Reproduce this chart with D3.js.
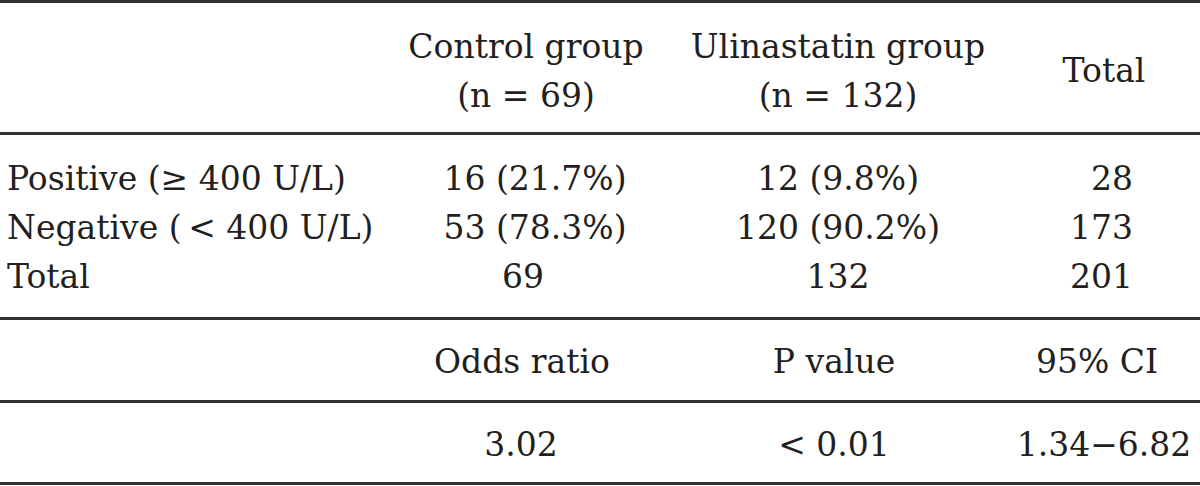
<!DOCTYPE html>
<html>
<head>
<meta charset="utf-8">
<script src="https://cdn.jsdelivr.net/npm/d3@7"></script>
<style>
  html, body { margin: 0; padding: 0; background: #fff; }
  svg text { font-family: "DejaVu Serif", serif; fill: #231f20; }
</style>
</head>
<body>
<svg id="chart" width="1200" height="486"></svg>
<script>
// ---- data ----
const headerTitles = ["Control group", "Ulinastatin group", "Total"];
const headerCounts = ["(n = 69)", "(n = 132)", ""];
const rowLabels = ["Positive (\u2265 400 U/L)", "Negative (\u2009< 400 U/L)", "Total"];
const controlValues = ["16 (21.7%)", "53 (78.3%)", "69"];
const ulinastatinValues = ["12 (9.8%)", "120 (90.2%)", "132"];
const totalValues = ["28", "173", "201"];
const statLabels = ["Odds ratio", "P value", "95% CI"];
const statValues = ["3.02", "< 0.01", "1.34\u22126.82"];

// ---- layout ----
const W = 1200, H = 486;
const svg = d3.select("#chart");
const fontSize = 33;

const colKeys = ["control", "ulinastatin", "total"];
const x = d3.scaleOrdinal().domain(colKeys).range([526, 838, 1104]);
const rowY = d3.scalePoint().domain(rowLabels).range([190, 288]);

const lineYs = [1.5, 133.5, 318.5, 401.5, 483.5];
svg.selectAll("line.rule").data(lineYs).join("line")
  .attr("class", "rule")
  .attr("x1", 0).attr("x2", W)
  .attr("y1", d => d).attr("y2", d => d)
  .attr("stroke", "#333").attr("stroke-width", 3);

const g = svg.append("g").style("font-size", fontSize + "px");

// header
g.selectAll("text.h1").data(headerTitles).join("text")
  .attr("class", "h1")
  .attr("x", (d, i) => x(colKeys[i]))
  .attr("y", (d, i) => i === 2 ? 82 : 58)
  .attr("text-anchor", "middle")
  .text(d => d);
g.selectAll("text.h2").data(headerCounts).join("text")
  .attr("class", "h2")
  .attr("x", (d, i) => x(colKeys[i]))
  .attr("y", 107)
  .attr("text-anchor", "middle")
  .text(d => d);

// row labels
g.selectAll("text.rl").data(rowLabels).join("text")
  .attr("class", "rl")
  .attr("x", 7)
  .attr("y", d => rowY(d))
  .text(d => d);

// body values
g.selectAll("text.c1").data(controlValues).join("text")
  .attr("class", "c1")
  .attr("x", (d, i) => x("control") + (i === 2 ? -3 : 9))
  .attr("y", (d, i) => rowY(rowLabels[i]))
  .attr("text-anchor", "middle")
  .text(d => d);
g.selectAll("text.c2").data(ulinastatinValues).join("text")
  .attr("class", "c2")
  .attr("x", x("ulinastatin"))
  .attr("y", (d, i) => rowY(rowLabels[i]))
  .attr("text-anchor", "middle")
  .text(d => d);
g.selectAll("text.c3").data(totalValues).join("text")
  .attr("class", "c3")
  .attr("x", 1133)
  .attr("y", (d, i) => rowY(rowLabels[i]))
  .attr("text-anchor", "end")
  .text(d => d);

// stats
g.selectAll("text.sl").data(statLabels).join("text")
  .attr("class", "sl")
  .attr("x", (d, i) => x(colKeys[i]) - (i === 0 ? 4 : (i === 1 ? 4 : 7)))
  .attr("y", 373)
  .attr("text-anchor", "middle")
  .text(d => d);
g.selectAll("text.sv").data(statValues).join("text")
  .attr("class", "sv")
  .attr("x", (d, i) => x(colKeys[i]) - (i === 0 ? 5 : (i === 1 ? 4 : 0)))
  .attr("y", 456)
  .attr("text-anchor", "middle")
  .text(d => d);
</script>
</body>
</html>
